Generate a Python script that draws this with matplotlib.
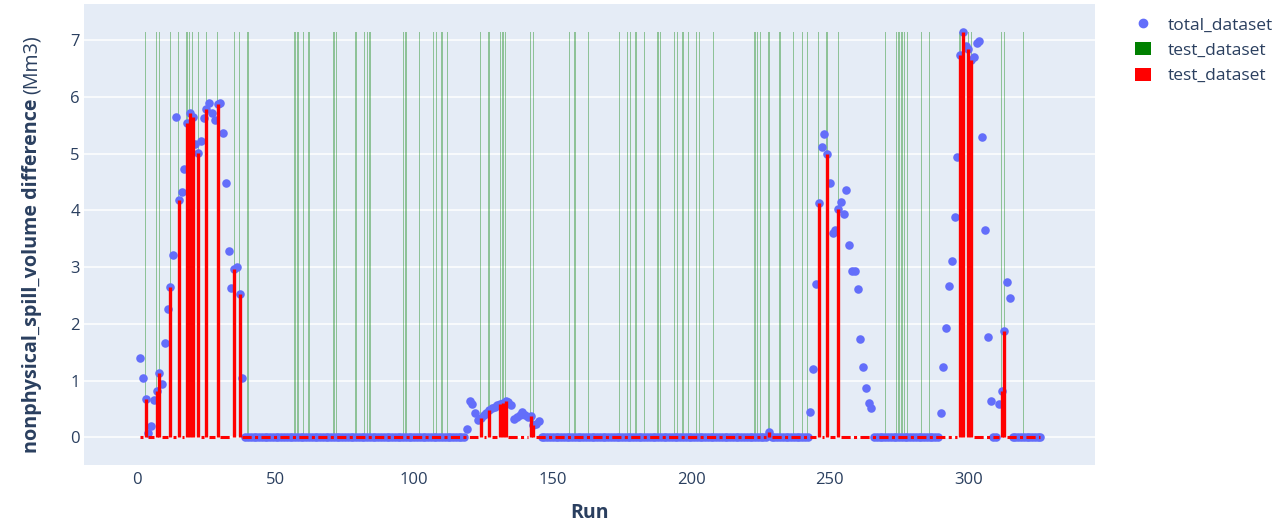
import numpy as np
import matplotlib
matplotlib.use('Agg')
import matplotlib.pyplot as plt
from matplotlib.lines import Line2D
from matplotlib.patches import Patch

plt.rcParams['font.family'] = ['Open Sans', 'DejaVu Sans']

# Run numbers and the total dataset values
runs = np.arange(1, 327)
hump_a = [1.40, 1.05, 0.68, 0.07, 0.20, 0.65, 0.82, 1.13, 0.93, 1.66, 2.26, 2.65, 3.22,
          5.65, 4.18, 4.33, 4.73, 5.54, 5.72, 5.65, 5.17, 5.01, 5.23, 5.63, 5.78, 5.90,
          5.72, 5.60, 5.88, 5.90, 5.37, 4.49, 3.29, 2.64, 2.96, 3.00, 2.53, 1.05]      # runs 1-38
hump_b = [0.15, 0.64, 0.58, 0.42, 0.30, 0.34, 0.39, 0.42, 0.48, 0.51, 0.53, 0.56, 0.59,
          0.60, 0.64, 0.62, 0.56, 0.33, 0.36, 0.39, 0.45, 0.39, 0.36, 0.37, 0.21, 0.24,
          0.29]                                                                      # runs 119-145
hump_c = [0.45, 1.20, 2.70, 4.13, 5.11, 5.34, 5.00, 4.49, 3.60, 3.65, 4.03, 4.15, 3.93,
          4.36, 3.39, 2.94, 2.94, 2.61, 1.74, 1.24, 0.86, 0.61, 0.52]                # runs 243-265
hump_d = [0.43, 1.24, 1.92, 2.66, 3.10, 3.89, 4.95, 6.74, 7.14, 6.90, 6.84, 6.65, 6.71,
          6.95, 6.98, 5.30, 3.65, 1.77, 0.63]                                        # runs 290-308
hump_e = [0.58, 0.81, 1.87, 2.74, 2.45]                                              # runs 311-315

total = np.array(hump_a + [0.0] * 80 + hump_b + [0.0] * 82 + [0.09] + [0.0] * 14
                 + hump_c + [0.0] * 24 + hump_d + [0.0] * 2 + hump_e + [0.0] * 11)

# runs that belong to the test dataset
test_runs = [3, 7, 8, 12, 15, 18, 19, 20, 22, 25, 29, 35, 37, 40, 57, 58, 60, 62, 71, 72,
             79, 82, 83, 84, 96, 97, 102, 107, 108, 110, 112, 124, 127, 131, 132, 133, 142,
             143, 156, 158, 163, 174, 177, 178, 180, 183, 188, 189, 194, 195, 197, 199, 202,
             203, 208, 223, 224, 225, 228, 232, 237, 240, 242, 246, 249, 253, 270, 274, 275,
             276, 277, 278, 283, 286, 297, 298, 300, 301, 312, 313, 320]

is_test = np.isin(runs, test_runs)
test_vals = np.where(is_test, total, 0.0)
spike = is_test & (total > 0)

blue = '#636EFA'
txt = '#2a3f5f'

fig = plt.figure(figsize=(12.8, 5.24), dpi=100)
ax = fig.add_axes([84 / 1280, 1 - 465 / 524, (1095 - 84) / 1280, (465 - 4) / 524])
ax.set_facecolor('#E5ECF6')

ax.bar(test_runs, total.max(), width=0.45, color='green', alpha=0.38, linewidth=0, zorder=1)
ax.scatter(runs, total, s=38, color=blue, linewidths=0, zorder=2)
# red series: dash-dot along the zero stretches, solid spikes where it has a value
ax.plot(runs, np.where(spike, np.nan, test_vals), color='red', lw=2.2,
        ls=(0, (3, 1.1, 1, 1.1)), zorder=3)
ax.vlines(runs[spike], 0, total[spike], color='red', lw=2.4, zorder=3)

ax.set_xlim(-19.2, 345.7)
ax.set_ylim(-0.49, 7.64)
ax.set_xticks([0, 50, 100, 150, 200, 250, 300])
ax.set_yticks(range(8))
ax.grid(axis='y', color='white', lw=1.1, zorder=0)
ax.set_axisbelow(True)
for s in ax.spines.values():
    s.set_visible(False)
ax.tick_params(length=0, labelsize=12, colors=txt, pad=5)
ax.tick_params(axis='y', pad=3)

fig.text(589 / 1280, 1 - 513 / 524, 'Run', ha='center', va='center',
         fontsize=14, fontweight='bold', color=txt)

# y title: bold part + normal unit
t1 = fig.text(32 / 1280, 1 - 453 / 524, 'nonphysical_spill_volume difference', rotation=90,
              ha='center', va='bottom', fontsize=14.2, fontweight='bold', color=txt)
fig.canvas.draw()
bb = t1.get_window_extent()
fig.text(32 / 1280, (bb.y1 + 5) / fig.bbox.height, '(Mm3)', rotation=90,
         ha='center', va='bottom', fontsize=14.2, color=txt)

handles = [Line2D([], [], marker='o', ls='', color=blue, markersize=6),
           Patch(facecolor='green'), Patch(facecolor='red')]
fig.legend(handles, ['total_dataset', 'test_dataset', 'test_dataset'],
           loc='upper left', bbox_to_anchor=(1128 / 1280, 1 - 10 / 524), frameon=False,
           fontsize=12.5, labelcolor=txt, handlelength=0.9, handleheight=0.75,
           handletextpad=1.0, labelspacing=0.52, borderaxespad=0)

fig.savefig('out.png', dpi=100)
